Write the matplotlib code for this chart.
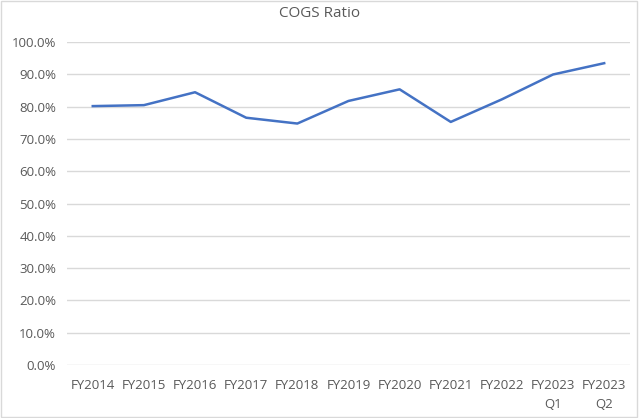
import matplotlib
matplotlib.use("Agg")
import matplotlib.pyplot as plt
from matplotlib.ticker import PercentFormatter
from matplotlib.patches import Rectangle

categories = ["FY2014", "FY2015", "FY2016", "FY2017", "FY2018", "FY2019",
              "FY2020", "FY2021", "FY2022", "FY2023\nQ1", "FY2023\nQ2"]
cogs_ratio = [0.802, 0.805, 0.845, 0.766, 0.748, 0.818,
              0.854, 0.753, 0.823, 0.900, 0.935]

plt.rcParams['font.family'] = ['Open Sans', 'DejaVu Sans']
text_col = "#595959"

fig = plt.figure(figsize=(6.4, 4.18), dpi=100)
ax = fig.add_axes([0.105, 0.127, 0.879, 0.772])

x = range(len(categories))
ax.plot(x, cogs_ratio, color="#4472c4", linewidth=1.8, solid_joinstyle="round")

ax.set_xlim(-0.5, len(categories) - 0.5)
ax.set_ylim(0, 1.0)
ax.set_yticks([i / 10 for i in range(11)])
ax.yaxis.set_major_formatter(PercentFormatter(1.0, decimals=1))
ax.set_xticks(list(x))
ax.set_xticklabels(categories, linespacing=1.6)

ax.grid(axis="y", color="#d9d9d9", linewidth=1)
ax.set_axisbelow(True)
for s in ax.spines.values():
    s.set_visible(False)
ax.tick_params(length=0, colors=text_col, labelsize=9.5)
ax.tick_params(axis="x", pad=10)
ax.tick_params(axis="y", pad=8)

fig.suptitle("COGS Ratio", y=0.985, fontsize=11, color=text_col)

fig.patches.append(Rectangle((0.001, 0.002), 0.995, 0.995, transform=fig.transFigure,
                             fill=False, edgecolor="#d9d9d9", linewidth=1))

fig.savefig("out.png", dpi=100)
